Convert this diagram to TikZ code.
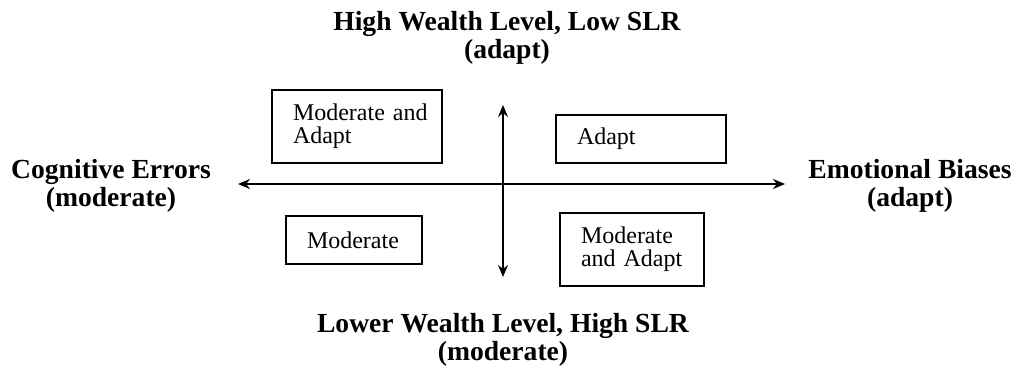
\documentclass[tikz,border=0pt]{standalone}
\usepackage{fontspec}
\setmainfont{Liberation Serif}
\usetikzlibrary{arrows.meta}

\begin{document}
\begin{tikzpicture}[x=0.5pt,y=-0.5pt,line width=0.65pt]
	% `quad' is used for the four boxes, `axislabel' for the bold texts.
	\tikzstyle{quad} = [draw,align=left,inner xsep=10.5pt,inner ysep=0pt,font=\fontsize{12}{11.5}\selectfont]
	\tikzstyle{axislabel} = [align=center,inner sep=0pt,font=\fontsize{13.8}{14}\selectfont\bfseries]
	\tikzstyle{axis} = [<->,>={Stealth[length=6pt,width=5pt]}]
	%
	\useasboundingbox (0,0) rectangle (1021,385);
	% Axis end points.
	\coordinate (west) at (238,184);
	\coordinate (east) at (785,184);
	\coordinate (north) at (503,105);
	\coordinate (south) at (503,277);
	\draw[axis] (west) -- (east);
	\draw[axis] (south) -- (north);
	% Axis labels.
	\node[axislabel] (high) at (507,38) {High Wealth Level, Low SLR\\(adapt)};
	\node[axislabel] (low) at (503,340) {Lower Wealth Level, High SLR\\(moderate)};
	\node[axislabel] (cognitive) at (111,186) {Cognitive Errors\\(moderate)};
	\node[axislabel] (emotional) at (910,186) {Emotional Biases\\(adapt)};
	% Quadrant boxes.
	\node[quad,text width=64pt,minimum height=36.5pt] (q1) at (357,126.5) {Moderate~and\\Adapt};
	\node[quad,text width=64pt,minimum height=24pt] (q2) at (641,139) {Adapt};
	\node[quad,text width=47pt,minimum height=24pt] (q3) at (354,240) {Moderate};
	\node[quad,text width=51pt,minimum height=36.5pt] (q4) at (632,249.5) {Moderate\\and~Adapt};
\end{tikzpicture}
\end{document}
